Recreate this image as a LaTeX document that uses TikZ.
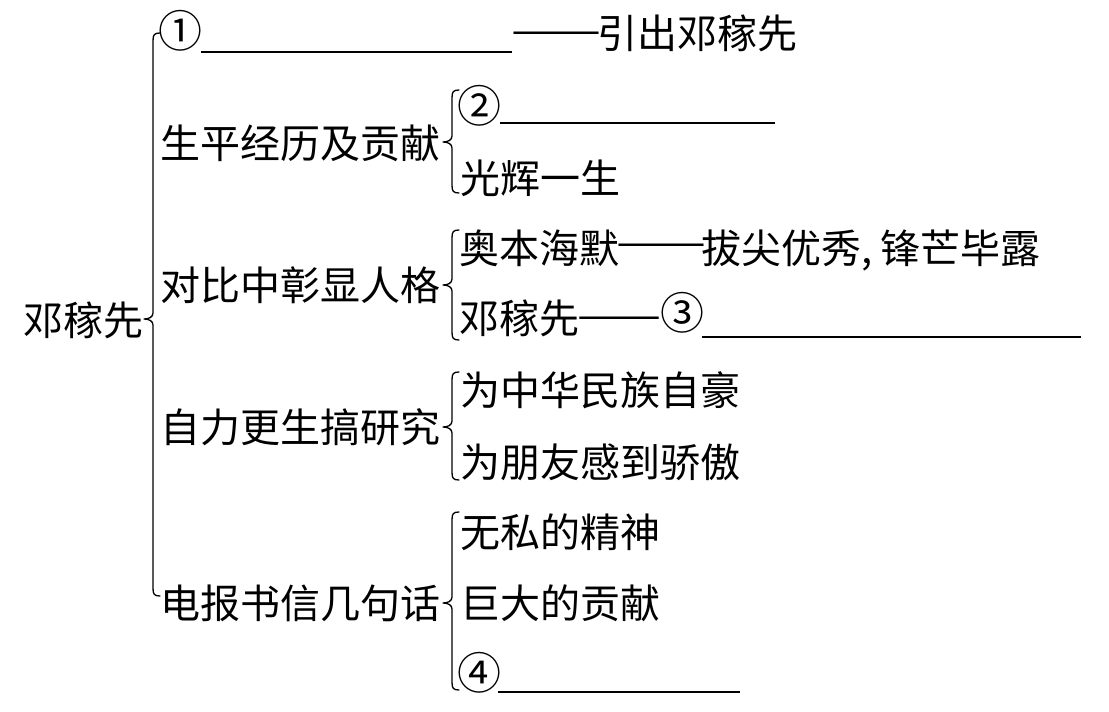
\documentclass[tikz,border=0pt]{standalone}
\usepackage{fontspec}
\usepackage{graphicx}
\setmainfont{Noto Sans CJK SC}
\tikzset{
  txt/.style={anchor=west, inner sep=0pt, font=\fontsize{40}{40}\selectfont, text=black},
  circ/.style={anchor=center, inner sep=0pt, font=\fontsize{44}{44}\selectfont, text=black},
  dashtxt/.style={anchor=west, inner sep=0pt, font=\fontsize{40}{40}\selectfont, text=black},
  br/.style={line width=1.3pt, black, line cap=round, line join=round},
  blank/.style={line width=1.3pt, black}
}
\newcommand\dd{\resizebox{90pt}{\height}{——}\kern-14pt}
\newcommand\ddshort{\resizebox{84pt}{\height}{——}\kern-14pt}
% #1 line x, #2 top y, #3 cusp y, #4 bottom y
\newcommand\mybracepath[4]{%
  \draw[br] (#1+7,#2) .. controls (#1+1,#2) and (#1,#2+2) .. (#1,#2+8)
    -- (#1,#3-6) .. controls (#1,#3-2) and (#1-4,#3) .. (#1-9,#3)
    .. controls (#1-4,#3) and (#1,#3+2) .. (#1,#3+6)
    -- (#1,#4-8) .. controls (#1,#4-2) and (#1+1,#4) .. (#1+7,#4);}
\begin{document}
\begin{tikzpicture}[x=1pt,y=-1pt]
\useasboundingbox (0,0) rectangle (1109,712);
% root
\node[txt] (root) at (23,320) {邓稼先};
% level 1
\node[circ] (c1) at (180,31) {①};
\coordinate (u1s) at (201,52);
\coordinate (u1e) at (512,52);
\node[dashtxt] (c1d) at (511,38) {\dd};
\node[txt] (c1t) at (597,33) {引出邓稼先};
\node[txt] (l2) at (160,143) {生平经历及贡献};
\node[txt] (l3) at (160,285) {对比中彰显人格};
\node[txt] (l4) at (160,427) {自力更生搞研究};
\node[txt] (l5) at (160,603) {电报书信几句话};
% level 2
\node[circ] (c2) at (479,106) {②};
\coordinate (u2s) at (500,123);
\coordinate (u2e) at (775,123);
\node[txt] (g2) at (460,178) {光辉一生};
\node[txt] (o3) at (459,248) {奥本海默};
\node[dashtxt] (o3d) at (616,250) {\dd};
\node[txt] (o3a) at (701,248) {拔尖优秀};
\node[txt, anchor=base west] (o3c) at (861,0 |- o3a.base) {,};
\node[txt] (o3b) at (880,248) {锋芒毕露};
\node[txt] (d3) at (459,318) {邓稼先};
\node[dashtxt] (d3d) at (577,323) {\ddshort};
\node[circ] (c3) at (682,313) {③};
\coordinate (u3s) at (702,337);
\coordinate (u3e) at (1081,337);
\node[txt] (w4) at (460,390) {为中华民族自豪};
\node[txt] (p4) at (460,462) {为朋友感到骄傲};
\node[txt] (s5) at (460,532) {无私的精神};
\node[txt] (j5) at (460,603) {巨大的贡献};
\node[circ] (c4) at (479,673) {④};
\coordinate (u4s) at (498,692);
\coordinate (u4e) at (740,692);
% blanks
\draw[blank] (u1s) -- (u1e);
\draw[blank] (u2s) -- (u2e);
\draw[blank] (u3s) -- (u3e);
\draw[blank] (u4s) -- (u4e);
% braces
\mybracepath{153}{33}{319}{596}
\mybracepath{452}{90}{142}{193}
\mybracepath{452}{230}{285}{340}
\mybracepath{452}{372}{427}{480}
\mybracepath{452}{512}{603}{690}
\end{tikzpicture}
\end{document}
